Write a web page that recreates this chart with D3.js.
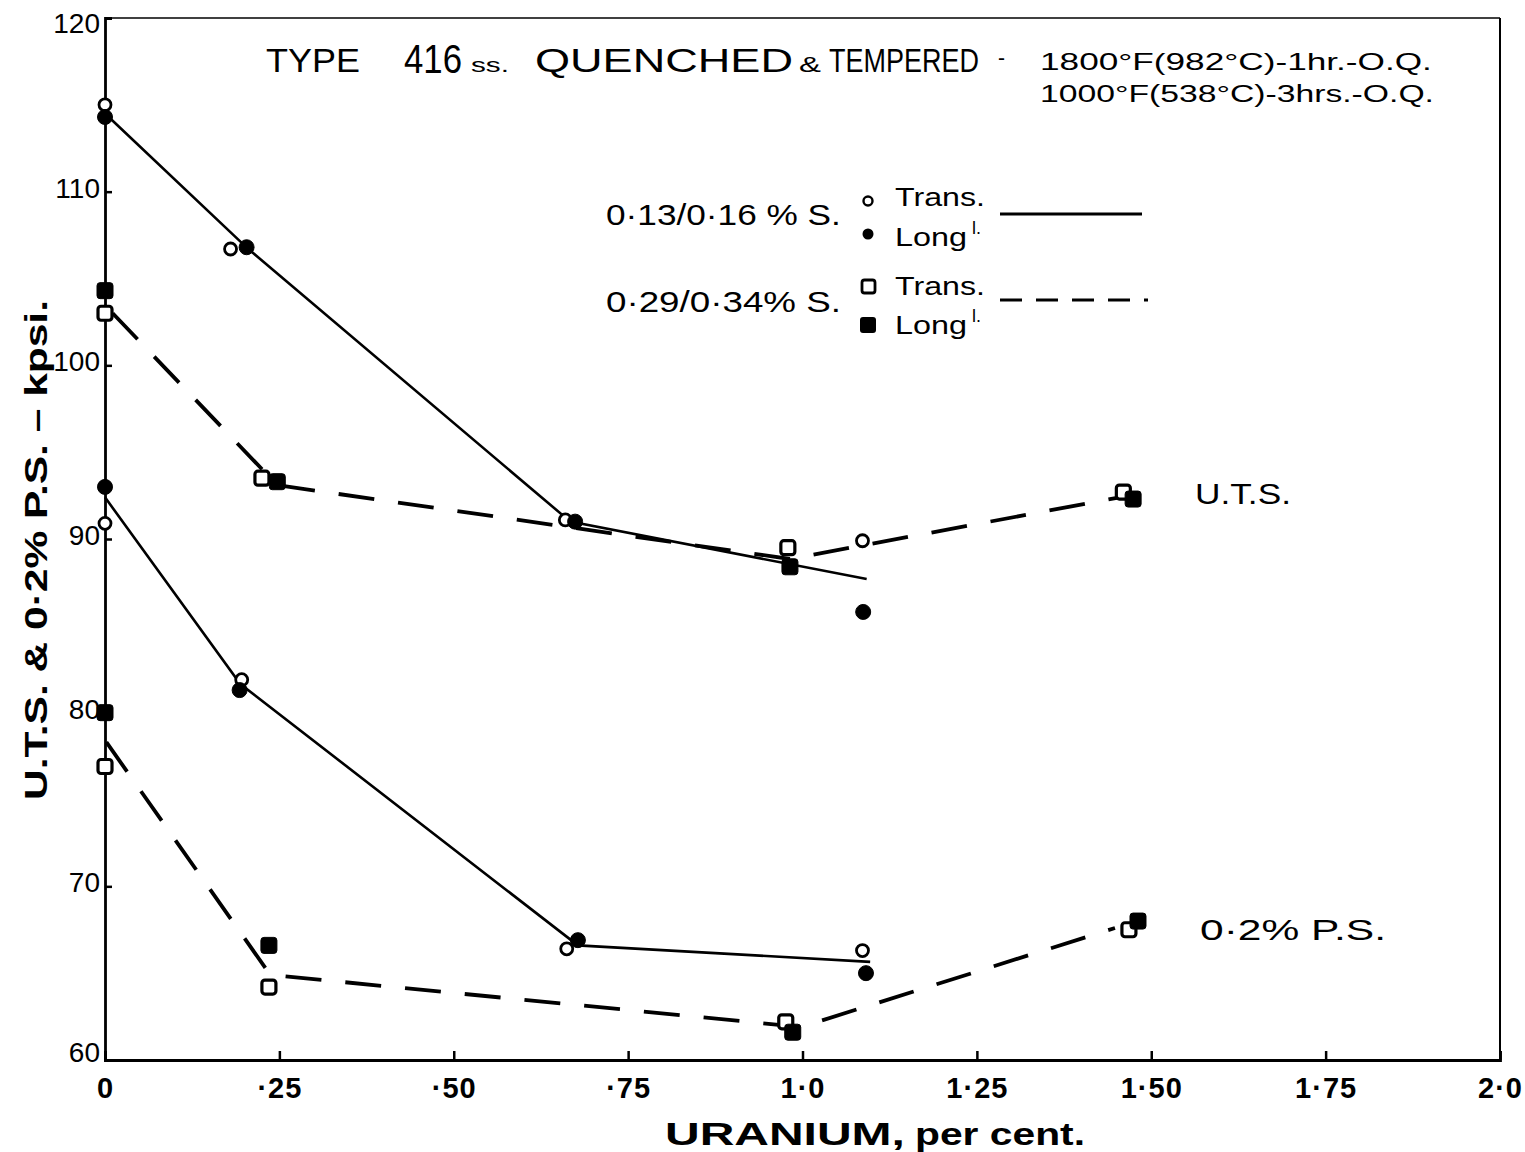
<!DOCTYPE html>
<html>
<head>
<meta charset="utf-8">
<script src="https://cdn.jsdelivr.net/npm/d3@7"></script>
<style>
  html, body { margin: 0; padding: 0; background: #fff; }
  svg { display: block; }
  text { font-family: "Liberation Sans", Arial, sans-serif; fill: #000; }
</style>
</head>
<body>
<svg id="chart" width="1525" height="1152"></svg>
<script>
// Type 416 stainless, quenched & tempered: strength vs uranium content.
// Each point is [uranium %, kpsi].

// 0.13/0.16 % S  (circles, solid line)
const utsTransLowS = [[0, 115.0], [0.18, 106.7], [0.66, 91.1], [1.086, 89.9]];
const utsLongLowS  = [[0, 114.3], [0.203, 106.8], [0.674, 91.0], [1.087, 85.8]];
const psTransLowS  = [[0, 90.9], [0.196, 81.9], [0.662, 66.4], [1.086, 66.3]];
const psLongLowS   = [[0, 93.0], [0.193, 81.3], [0.678, 66.9], [1.091, 65.0]];
const utsCurveLowS = [[0, 114.5], [0.204, 106.75], [0.667, 91.0], [1.092, 87.7]];
const psCurveLowS  = [[0, 92.4], [0.194, 81.65], [0.678, 66.6], [1.097, 65.65]];

// 0.29/0.34 % S  (squares, dashed line)
const utsTransHighS = [[0, 103.0], [0.225, 93.5], [0.979, 89.5], [1.46, 92.7]];
const utsLongHighS  = [[0, 104.3], [0.247, 93.3], [0.982, 88.4], [1.474, 92.3]];
const psTransHighS  = [[0, 76.9], [0.235, 64.2], [0.976, 62.2], [1.468, 67.5]];
const psLongHighS   = [[0, 80.0], [0.235, 66.6], [0.986, 61.6], [1.481, 68.0]];
const utsCurveHighS = [[0.011, 103.0], [0.247, 93.1], [0.982, 88.85], [1.455, 92.4]];
const psCurveHighS  = [[0.002, 78.3], [0.237, 64.9], [0.998, 61.9], [1.448, 67.6]];

// Axis ticks
const xTicks = [0, 0.25, 0.5, 0.75, 1.0, 1.25, 1.5, 1.75, 2.0];
const xTickLabels = ["0", "·25", "·50", "·75", "1·0", "1·25", "1·50", "1·75", "2·0"];
const yTicks = [60, 70, 80, 90, 100, 110, 120];
const yTickLabels = ["60", "70", "80", "90", "100", "110", "120"];

const svg = d3.select("#chart");
const plotLeft = 105, plotRight = 1500, plotTop = 18, plotBottom = 1060;

const x = d3.scaleLinear().domain([0, 2]).range([plotLeft, plotRight]);
const y = d3.scaleLinear().domain([60, 120]).range([plotBottom, plotTop]);

// Frame
svg.append("line").attr("x1", plotLeft).attr("x2", plotRight).attr("y1", plotTop).attr("y2", plotTop)
  .attr("stroke", "#000").attr("stroke-width", 1.6);
svg.append("line").attr("x1", plotRight).attr("x2", plotRight).attr("y1", plotTop).attr("y2", plotBottom)
  .attr("stroke", "#000").attr("stroke-width", 2);

// Bottom axis, ticks pointing inward
const xAxis = d3.axisBottom(x).tickValues(xTicks).tickSize(-9)
  .tickFormat((d, i) => xTickLabels[i]);
const gx = svg.append("g").attr("transform", `translate(0,${plotBottom})`).call(xAxis);
gx.select(".domain").attr("stroke", "#000").attr("stroke-width", 2.8);
gx.selectAll(".tick line").attr("stroke", "#000").attr("stroke-width", 2.5);
gx.selectAll(".tick text").attr("y", 17).attr("font-size", 29).attr("font-weight", "bold")
  .style("letter-spacing", "1px");

// Left axis, ticks pointing inward
const yAxis = d3.axisLeft(y).tickValues(yTicks).tickSize(-7)
  .tickFormat((d, i) => yTickLabels[i]);
const gy = svg.append("g").attr("transform", `translate(${plotLeft},0)`).call(yAxis);
gy.select(".domain").attr("stroke", "#000").attr("stroke-width", 2.8);
gy.selectAll(".tick line").attr("stroke", "#000").attr("stroke-width", 2.5);
gy.selectAll(".tick text").attr("x", -5).attr("font-size", 28).attr("dy", "0.2em")
  .attr("text-anchor", "end");
gy.selectAll(".tick").filter(d => d === 120).select("text").attr("dy", "0.5em");
gy.selectAll(".tick").filter(d => d === 60).select("text").attr("dy", "0.05em");

// Fitted curves
const line = d3.line().x(d => x(d[0])).y(d => y(d[1]));
const solid = { stroke: "#000", "stroke-width": 2.6, fill: "none" };
const dashed = { stroke: "#000", "stroke-width": 3.8, fill: "none", "stroke-dasharray": "36 24" };

function drawCurve(data, style) {
  const p = svg.append("path").attr("d", line(data));
  Object.entries(style).forEach(([k, v]) => p.attr(k, v));
}
drawCurve(utsCurveLowS, solid);
drawCurve(psCurveLowS, solid);
drawCurve(utsCurveHighS, dashed);
drawCurve(psCurveHighS, dashed);

// Markers
function circles(data, filled, r) {
  svg.append("g").selectAll("circle").data(data).join("circle")
    .attr("cx", d => x(d[0])).attr("cy", d => y(d[1]))
    .attr("r", r)
    .attr("fill", filled ? "#000" : "#fff")
    .attr("stroke", "#000").attr("stroke-width", filled ? 1 : 2.8);
}
function squares(data, filled, s) {
  svg.append("g").selectAll("rect").data(data).join("rect")
    .attr("x", d => x(d[0]) - s / 2).attr("y", d => y(d[1]) - s / 2)
    .attr("width", s).attr("height", s).attr("rx", 3)
    .attr("fill", filled ? "#000" : "#fff")
    .attr("stroke", "#000").attr("stroke-width", filled ? 1 : 3.2);
}
circles(utsTransLowS, false, 6);
circles(psTransLowS, false, 6);
circles(utsLongLowS, true, 7.5);
circles(psLongLowS, true, 7.5);
squares(utsTransHighS, false, 14);
squares(psTransHighS, false, 14);
squares(utsLongHighS, true, 16);
squares(psLongHighS, true, 16);

// Text helper: places a label at (px, py) and squeezes it horizontally to a given width
function label(txt, px, py, size, opts = {}) {
  const t = svg.append("text").attr("x", 0).attr("y", 0).attr("font-size", size).text(txt);
  if (opts.weight) t.attr("font-weight", opts.weight);
  let sx = 1;
  if (opts.len) {
    const natural = t.node().getComputedTextLength();
    if (natural > 0) sx = opts.len / natural;
  }
  t.attr("transform", `translate(${px},${py}) scale(${sx},1)`);
  return t;
}

// Title block
label("TYPE", 266, 72, 33, { len: 94 });
label("416", 404, 73, 40, { len: 58 });
label("ss.", 471, 72, 20, { len: 38 });
label("QUENCHED", 535, 72, 33, { len: 258 });
label("&", 799, 72, 22, { len: 22 });
label("TEMPERED", 829, 72, 33, { len: 150 });
label("-", 998, 65, 22, { len: 7 });
label("1800°F(982°C)-1hr.-O.Q.", 1040, 70, 24, { len: 392 });
label("1000°F(538°C)-3hrs.-O.Q.", 1040, 102, 24, { len: 394 });

// Legend
label("0·13/0·16 % S.", 606, 225, 30, { len: 235 });
label("0·29/0·34% S.", 606, 312, 30, { len: 235 });
label("Trans.", 895, 206, 25, { len: 90 });
label("Trans.", 895, 295, 25, { len: 90 });
label("Long", 895, 246, 25, { len: 72 });
label("l.", 972, 234, 18);
label("Long", 895, 334, 25, { len: 72 });
label("l.", 972, 322, 18);

svg.append("circle").attr("cx", 868).attr("cy", 201).attr("r", 4.5)
  .attr("fill", "#fff").attr("stroke", "#000").attr("stroke-width", 2.4);
svg.append("circle").attr("cx", 868).attr("cy", 234).attr("r", 5.5).attr("fill", "#000");
svg.append("rect").attr("x", 862).attr("y", 280).attr("width", 13).attr("height", 13).attr("rx", 2.5)
  .attr("fill", "#fff").attr("stroke", "#000").attr("stroke-width", 2.8);
svg.append("rect").attr("x", 860).attr("y", 317).attr("width", 16).attr("height", 16).attr("rx", 3)
  .attr("fill", "#000");
svg.append("line").attr("x1", 1000).attr("x2", 1142).attr("y1", 214).attr("y2", 214)
  .attr("stroke", "#000").attr("stroke-width", 2.8);
svg.append("line").attr("x1", 1000).attr("x2", 1148).attr("y1", 300).attr("y2", 300)
  .attr("stroke", "#000").attr("stroke-width", 3).attr("stroke-dasharray", "22 14");

// Curve labels
label("U.T.S.", 1195, 504, 30, { len: 96 });
label("0·2% P.S.", 1200, 940, 30, { len: 186 });

// Axis titles
label("URANIUM,", 665, 1145, 31, { len: 240, weight: "bold" });
label("per cent.", 915, 1145, 31, { len: 170, weight: "bold" });
svg.append("text")
  .attr("transform", "translate(47,550) rotate(-90)")
  .attr("text-anchor", "middle")
  .attr("font-size", 31).attr("font-weight", "bold")
  .attr("textLength", 500).attr("lengthAdjust", "spacingAndGlyphs")
  .text("U.T.S. & 0·2% P.S. – kpsi.");
</script>
</body>
</html>
